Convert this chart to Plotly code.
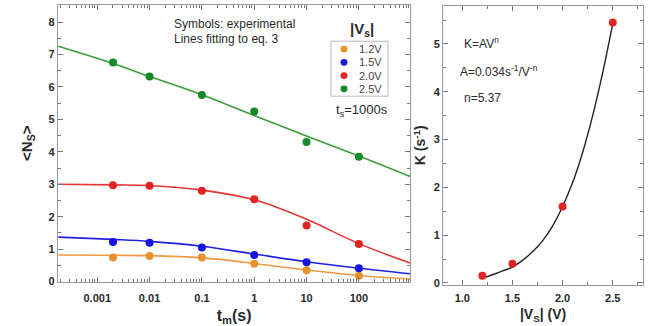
import plotly.graph_objects as go

# ---------------- data (left panel) ----------------
t_meas = [0.002, 0.01, 0.1, 1, 10, 100]
ns_12 = [0.74, 0.79, 0.74, 0.55, 0.35, 0.18]
ns_15 = [1.22, 1.20, 1.05, 0.82, 0.60, 0.41]
ns_20 = [2.97, 2.95, 2.80, 2.54, 1.73, 1.16]
ns_25 = [6.75, 6.32, 5.75, 5.24, 4.30, 3.85]

t_fit = [0.00018, 0.002, 0.01, 0.1, 1, 10, 100, 955]
fit_12 = [0.82, 0.81, 0.80, 0.73, 0.56, 0.36, 0.19, 0.08]
fit_15 = [1.37, 1.30, 1.24, 1.09, 0.85, 0.61, 0.41, 0.24]
fit_20 = [3.00, 2.98, 2.96, 2.82, 2.52, 1.92, 1.17, 0.57]
fit_25 = [7.25, 6.72, 6.32, 5.76, 5.12, 4.49, 3.87, 3.24]

labels = ["1.2V", "1.5V", "2.0V", "2.5V"]
colors = ["#E8922E", "#1515DD", "#E02424", "#138A25"]
line_colors = ["#EE9A40", "#2020E0", "#E43434", "#3A9E3A"]

# ---------------- data (right panel) ----------------
v_meas = [1.2, 1.5, 2.0, 2.5]
k_meas = [0.15, 0.40, 1.60, 5.45]
v_fit = [1.22, 1.3, 1.4, 1.5, 1.6, 1.7, 1.8, 1.9, 2.0, 2.1, 2.2, 2.3, 2.4, 2.5]
k_fit = [0.11, 0.17, 0.25, 0.33, 0.47, 0.65, 0.88, 1.19, 1.60, 2.10, 2.73, 3.50, 4.40, 5.42]

FONT = "Arial, Liberation Sans, sans-serif"
TXT = "#2a2a2a"
W, H = 648, 326


def px(x):
    return x / W


def py(y):
    return 1 - y / H


fig = go.Figure()

meas = [ns_12, ns_15, ns_20, ns_25]
fits = [fit_12, fit_15, fit_20, fit_25]
for lab, lc, f in zip(labels, line_colors, fits):
    fig.add_trace(go.Scatter(x=t_fit, y=f, mode="lines", line=dict(color=lc, width=1.6, shape="spline"),
                             showlegend=False, xaxis="x", yaxis="y", hoverinfo="skip"))
for lab, c, m in zip(labels, colors, meas):
    fig.add_trace(go.Scatter(x=t_meas, y=m, mode="markers", name=lab, showlegend=False,
                             marker=dict(color=c, size=8), xaxis="x", yaxis="y"))

fig.add_trace(go.Scatter(x=v_fit, y=k_fit, mode="lines", line=dict(color="#222222", width=1.4, shape="spline"),
                         showlegend=False, xaxis="x2", yaxis="y2"))
fig.add_trace(go.Scatter(x=v_meas, y=k_meas, mode="markers", showlegend=False,
                         marker=dict(color="#E02424", size=8), xaxis="x2", yaxis="y2"))

axis_common = dict(showline=True, linecolor="#9a9a9a", linewidth=1.2, mirror="allticks",
                   ticks="inside", tickcolor="#777777", ticklen=5, showgrid=False, zeroline=False,
                   tickfont=dict(family=FONT, size=11, color=TXT, weight="bold"))

# manual legend (compact, like the reference)
shapes = [dict(type="rect", xref="paper", yref="paper", x0=px(331), x1=px(388), y0=py(98), y1=py(42),
               line=dict(color="#b8b8b8", width=1), fillcolor="white", layer="below")]
annotations = []
leg_y = [50, 63.5, 77, 90.5]
for lab, c, yy in zip(labels, colors, leg_y):
    shapes.append(dict(type="circle", xref="paper", yref="paper", x0=px(340.5), x1=px(347.5),
                       y0=py(yy + 3.5), y1=py(yy - 3.5), fillcolor=c, line=dict(color=c, width=0)))
    annotations.append(dict(text=lab, x=px(384), y=py(yy), xref="paper", yref="paper", xanchor="right",
                            yanchor="middle", showarrow=False, font=dict(family=FONT, size=11, color="#444444")))

annotations += [
    dict(text="Symbols: experimental", x=px(172), y=py(24), xref="paper", yref="paper",
         xanchor="left", yanchor="middle", showarrow=False, font=dict(family=FONT, size=12, color=TXT)),
    dict(text="Lines fitting to eq. 3", x=px(172), y=py(40), xref="paper", yref="paper",
         xanchor="left", yanchor="middle", showarrow=False, font=dict(family=FONT, size=12, color=TXT)),
    dict(text="|V<sub>s</sub>|", x=px(362), y=py(30), xref="paper", yref="paper", xanchor="center", yanchor="middle",
         showarrow=False, font=dict(family=FONT, size=15, color=TXT, weight="bold")),
    dict(text="t<sub>s</sub>=1000s", x=px(362), y=py(113), xref="paper", yref="paper", xanchor="center",
         yanchor="middle", showarrow=False, font=dict(family=FONT, size=13, color=TXT)),
    dict(text="K=AV<sup>n</sup>", x=px(462), y=py(44), xref="paper", yref="paper", xanchor="left", yanchor="middle",
         showarrow=False, font=dict(family=FONT, size=12, color=TXT)),
    dict(text="A=0.034s<sup>-1</sup>/V<sup>-n</sup>", x=px(458), y=py(72), xref="paper", yref="paper",
         xanchor="left", yanchor="middle", showarrow=False, font=dict(family=FONT, size=12, color=TXT)),
    dict(text="n=5.37", x=px(462), y=py(100), xref="paper", yref="paper", xanchor="left", yanchor="middle",
         showarrow=False, font=dict(family=FONT, size=12, color=TXT)),
]

fig.update_layout(
    width=W, height=H, margin=dict(l=0, r=0, t=0, b=0),
    paper_bgcolor="white", plot_bgcolor="white",
    font=dict(family=FONT, color=TXT),
    showlegend=False,
    xaxis=dict(type="log", range=[-3.75, 2.98], domain=[0.0895, 0.633], anchor="y",
               tickvals=[0.001, 0.01, 0.1, 1, 10, 100], ticktext=["0.001", "0.01", "0.1", "1", "10", "100"],
               minor=dict(ticks="inside", ticklen=3, tickcolor="#777777", dtick="D1"),
               ticklabelstandoff=6,
               title=dict(text="t<sub>m</sub>(s)", font=dict(family=FONT, size=16, color=TXT, weight="bold"), standoff=10),
               **axis_common),
    yaxis=dict(range=[0, 8.53], domain=[0.120, 0.985], anchor="x", dtick=1,
               minor=dict(ticks="inside", ticklen=3, tickcolor="#777777", dtick=0.5),
               title=dict(text="&lt;N<sub>S</sub>&gt;", font=dict(family=FONT, size=15, color=TXT, weight="bold"), standoff=12),
               **axis_common),
    xaxis2=dict(range=[0.81, 2.80], domain=[0.684, 0.992], anchor="y2",
                tickvals=[1.0, 1.5, 2.0, 2.5], ticktext=["1.0", "1.5", "2.0", "2.5"],
                minor=dict(ticks="inside", ticklen=3, tickcolor="#777777", dtick=0.25),
                ticklabelstandoff=3,
                title=dict(text="|V<sub>S</sub>| (V)", font=dict(family=FONT, size=14, color=TXT, weight="bold"), standoff=6),
                **axis_common),
    yaxis2=dict(range=[-0.04, 5.80], domain=[0.110, 0.982], anchor="x2", dtick=1,
                minor=dict(ticks="inside", ticklen=3, tickcolor="#777777", dtick=0.5),
                title=dict(text="K (s<sup>-1</sup>)", font=dict(family=FONT, size=14, color=TXT, weight="bold"), standoff=4),
                **axis_common),
    shapes=shapes,
    annotations=annotations,
)

fig.write_html("out.html")
